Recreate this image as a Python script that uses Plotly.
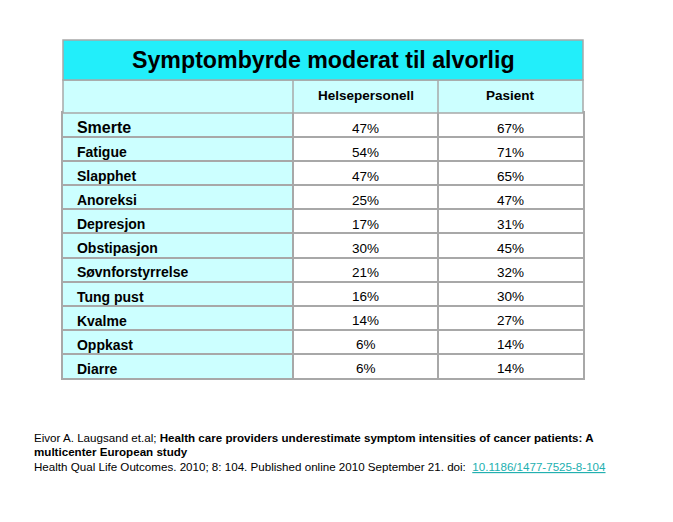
import plotly.graph_objects as go

title_text = "Symptombyrde moderat til alvorlig"
col_headers = ["Helsepersonell", "Pasient"]
symptoms = ["Smerte", "Fatigue", "Slapphet", "Anoreksi", "Depresjon", "Obstipasjon",
            "Søvnforstyrrelse", "Tung pust", "Kvalme", "Oppkast", "Diarre"]
helsepersonell = [47, 54, 47, 25, 17, 30, 21, 16, 14, 6, 6]
pasient = [67, 71, 65, 47, 31, 45, 32, 30, 27, 14, 14]

W, H = 673, 522
OFF = 8  # page body offset


def px(p):
    return (p - OFF) / W


def py(p):
    return 1 - (p - OFF) / H


# table geometry (reference pixels)
tx0, tx1 = 63, 583
y_title_top, y_head_top, y_body_top, y_body_bot = 40, 80, 113, 378
col_widths = [230, 145, 145]
edges = [0, col_widths[0], col_widths[0] + col_widths[1], sum(col_widths)]
centers = [(edges[i] + edges[i + 1]) / 2 for i in range(3)]

border = "#A8A8A8"
cyan = "#22EEFA"
light = "#CCFFFF"
font = "Liberation Sans, Arial, sans-serif"

ticktext = []
for i, s in enumerate(symptoms):
    if i == 0:
        ticktext.append("<span style='font-size:16px'><b>%s</b></span>" % s)
    else:
        ticktext.append("<b>%s</b>" % s)

fig = go.Figure()
# invisible trace to establish the axes
fig.add_trace(go.Scatter(x=[centers[1]] * len(symptoms), y=symptoms, mode="markers",
                         marker=dict(size=1, opacity=0), hoverinfo="skip",
                         showlegend=False))

for vals, cx in zip([helsepersonell, pasient], centers[1:]):
    for s, v in zip(symptoms, vals):
        fig.add_annotation(text="%d%%" % v, xref="x", yref="y", x=cx, y=s,
                           showarrow=False, yshift=-3, xanchor="center", yanchor="middle",
                           font=dict(family=font, size=13.5, color="black"))

# first column light-cyan fill
fig.add_shape(type="rect", xref="x", yref="paper", x0=edges[0], x1=edges[1],
              y0=py(y_body_bot), y1=py(y_body_top), fillcolor=light,
              line=dict(width=0), layer="below")

# header row
fig.add_shape(type="rect", xref="paper", yref="paper", x0=px(tx0), x1=px(tx1),
              y0=py(y_body_top), y1=py(y_head_top), fillcolor=light,
              line=dict(color=border, width=1.5))
for e in edges[1:3]:
    fig.add_shape(type="line", xref="x", yref="paper", x0=e, x1=e,
                  y0=py(y_body_top), y1=py(y_head_top), line=dict(color=border, width=1.5))
for h, cx in zip(col_headers, centers[1:]):
    fig.add_annotation(text="<b>%s</b>" % h, xref="x", yref="paper", x=cx,
                       y=py(96), showarrow=False, xanchor="center", yanchor="middle",
                       font=dict(family=font, size=13.5, color="black"))

# title row
fig.add_shape(type="rect", xref="paper", yref="paper", x0=px(tx0), x1=px(tx1),
              y0=py(y_head_top), y1=py(y_title_top), fillcolor=cyan,
              line=dict(color=border, width=1.5))
fig.add_annotation(text="<b>%s</b>" % title_text, xref="paper", yref="paper",
                   x=px((tx0 + tx1) / 2), y=py(60), showarrow=False,
                   xanchor="center", yanchor="middle",
                   font=dict(family=font, size=23.2, color="black"))

foot_lines = [
    "Eivor A. Laugsand et.al; <b>Health care providers underestimate symptom intensities of cancer patients: A</b>",
    "<b>multicenter European study</b>",
    "Health Qual Life Outcomes. 2010; 8: 104. Published online 2010 September 21. doi:  "
    "<span style='color:#22B0B0;text-decoration:underline'>10.1186/1477-7525-8-104</span>",
]
foot_y = [437, 451, 466]
for t, yy in zip(foot_lines, foot_y):
    fig.add_annotation(text=t, xref="paper", yref="paper", x=px(32), y=py(yy),
                       xanchor="left", yanchor="middle", showarrow=False, align="left",
                       font=dict(family=font, size=11.6, color="black"))

fig.update_layout(
    width=W, height=H, margin=dict(l=0, r=0, t=0, b=0),
    paper_bgcolor="white", plot_bgcolor="white",
    xaxis=dict(domain=[px(tx0), px(tx1)], range=[edges[0], edges[-1]],
               showticklabels=False, ticks="", zeroline=False,
               tickmode="array", tickvals=edges[1:3], showgrid=True,
               gridcolor=border, gridwidth=1.5,
               showline=True, linecolor=border, linewidth=1.5, mirror=True),
    yaxis=dict(domain=[py(y_body_bot), py(y_body_top)], type="category",
               categoryorder="array", categoryarray=symptoms,
               range=[len(symptoms) - 0.5, -0.5],
               tickmode="array", tickvals=symptoms, ticktext=ticktext,
               tickson="boundaries", ticks="", ticklabelposition="inside",
               ticklabelstandoff=14, ticklabelshift=-3,
               tickfont=dict(family=font, size=14, color="black"),
               showgrid=True, gridcolor=border, gridwidth=1.5, zeroline=False,
               showline=True, linecolor=border, linewidth=1.5, mirror=True),
)
fig.write_html("out.html")
